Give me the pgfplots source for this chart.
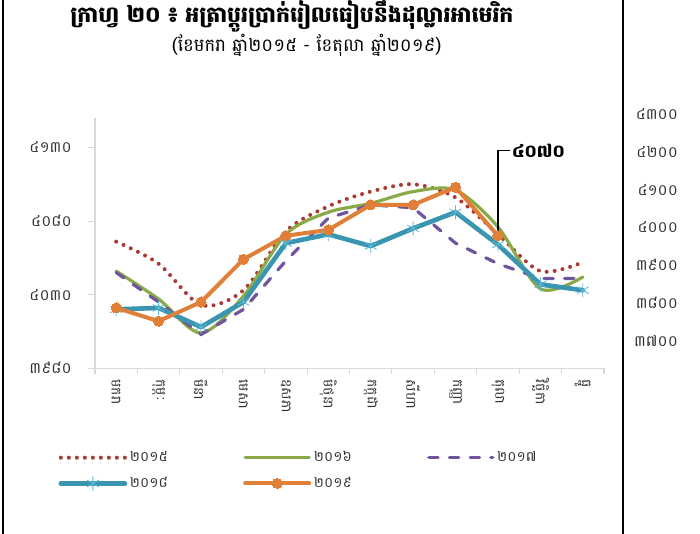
\documentclass[border=0pt]{standalone}
\usepackage{fontspec}
\usepackage{pgfplots}
\pgfplotsset{compat=1.18}
\newfontfamily\kh[Script=Khmer]{Battambang}
\definecolor{cred}{HTML}{A93A35}
\definecolor{cgreen}{HTML}{8AAA48}
\definecolor{cpurple}{HTML}{70559E}
\definecolor{cblue}{HTML}{3A96B0}
\definecolor{cblue2}{HTML}{5BB8D3}
\definecolor{corange}{HTML}{E07F38}
\definecolor{axgray}{HTML}{D9D9D9}
\newcommand\lent[1]{\makebox[83pt][l]{#1}}
\begin{document}
\begin{tikzpicture}
\path[use as bounding box] (0,0) rectangle (525pt,-400.5pt);
\node[font=\kh\bfseries\fontsize{16.5}{19}\selectfont] at (219pt,-12.5pt) {ក្រាហ្វ ២០ ៖ អត្រាប្តូរប្រាក់រៀលធៀបនឹងដុល្លារអាមេរិក};
\node[font=\kh\fontsize{13.5}{15}\selectfont] at (230pt,-33.75pt) {(ខែមករា ឆ្នាំ២០១៥ - ខែតុលា ឆ្នាំ២០១៩)};
\foreach \v/\yy in {៤៣០០/114,៤២០០/152,៤១០០/190,៤០០០/227,៣៩០០/265,៣៨០០/303,៣៧០០/341}{
  \node[anchor=east, font=\kh\fontsize{11.5}{13}\selectfont, text=black!80] at (512pt,-0.75*\yy pt) {\v};
}
\begin{axis}[
  at={(71.25pt,-276.2pt)}, anchor=south west,
  scale only axis, width=381.75pt, height=187.7pt,
  xmin=-0.5, xmax=11.5, ymin=3980, ymax=4150,
  clip=false,
  axis x line*=bottom, axis y line*=left,
  axis line style={axgray, line width=0.8pt},
  tick align=outside,
  xtick={0,...,11},
  xticklabels={មករា,កុម្ភៈ,មីនា,មេសា,ឧសភា,មិថុនា,កក្កដា,សីហា,កញ្ញា,តុលា,វិច្ឆិកា,ធ្នូ},
  major x tick style={draw=none},
  minor xtick={-0.5,0.5,...,11.5},
  minor x tick style={axgray, line width=0.8pt},
  minor tick length=4pt,
  ytick={3980,4030,4080,4130},
  yticklabels={៣៩៨០,៤០៣០,៤០៨០,៤១៣០},
  major y tick style={axgray, line width=0.8pt},
  major tick length=5pt,
  xticklabel style={rotate=-90, anchor=west, font=\kh\fontsize{10.5}{12}\selectfont, text=black!80},
  yticklabel style={font=\kh\fontsize{11.5}{13}\selectfont, text=black!80, xshift=-9pt},
  legend columns=3,
  legend cell align=left,
  legend style={at={(axis description cs:-0.08,-0.31)}, anchor=north west, draw=none, fill=none,
    font=\kh\fontsize{10.5}{12}\selectfont, text=black!80, row sep=6pt},
  legend image code/.code={\draw[mark repeat=2,mark phase=2,#1] plot coordinates {(0pt,0pt) (24pt,0pt) (48pt,0pt)};},
]
\addplot[cred, smooth, line width=3pt, line cap=round, dash pattern=on 0pt off 6pt] coordinates {
(0,4066) (1,4051) (2,4023) (3,4033) (4,4073) (5,4090) (6,4100) (7,4105) (8,4096) (9,4071) (10,4046) (11,4052)};
\addlegendentry{\lent{២០១៥}}
\addplot[cgreen, smooth, line width=2.4pt, line cap=round] coordinates {
(0,4046) (1,4027) (2,4004) (3,4029) (4,4071) (5,4086) (6,4092) (7,4100) (8,4101) (9,4076) (10,4034) (11,4042)};
\addlegendentry{\lent{២០១៦}}
\addplot[cpurple, line width=2.4pt, line cap=round, dash pattern=on 7pt off 8.5pt] coordinates {
(0,4045) (1,4025) (2,4003) (3,4020) (4,4053) (5,4082) (6,4091) (7,4089) (8,4065) (9,4051) (10,4041) (11,4041)};
\addlegendentry{២០១៧}
\addplot[cblue, line width=3.5pt, line cap=round, line join=round, mark=asterisk, mark size=5pt, mark options={cblue2, line width=0.6pt}] coordinates {
(0,4020) (1,4021) (2,4008) (3,4025) (4,4065) (5,4071) (6,4063) (7,4075) (8,4086) (9,4064) (10,4037) (11,4033)};
\addlegendentry{\lent{២០១៨}}
\addplot[corange, line width=3pt, line cap=round, line join=round, mark=*, mark size=3.8pt, mark options={corange, fill=corange, line width=0pt}] coordinates {
(0,4021) (1,4012) (2,4025) (3,4054) (4,4070) (5,4074) (6,4091) (7,4091) (8,4103) (9,4070)};
\addlegendentry{\lent{២០១៩}}
\draw[line width=1.1pt, black] (axis cs:9,4070) -- ++(0pt,64pt) -- ++(9pt,0pt) node[right, inner sep=1pt, font=\kh\bfseries\fontsize{13}{15}\selectfont] {៤០៧០};
\end{axis}
\draw[line width=1.5pt] (2pt,0) -- (2pt,-400.5pt);
\draw[line width=1.5pt] (467pt,0) -- (467pt,-400.5pt);
\end{tikzpicture}
\end{document}
